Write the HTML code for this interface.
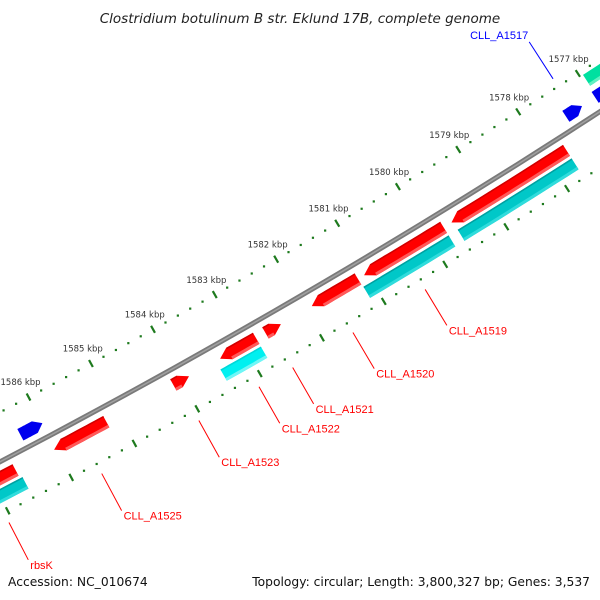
<!DOCTYPE html>
<html><head><meta charset="utf-8"><style>
html,body{margin:0;padding:0;background:#fff;}
svg{display:block;font-family:"DejaVu Sans","Liberation Sans",sans-serif;}
</style></head><body>
<svg id="chart" width="600" height="600" viewBox="0 0 600 600" xmlns="http://www.w3.org/2000/svg">
<rect width="600" height="600" fill="#fff"/>
<g id="ticks"></g>
<g id="backbone"></g>
<g id="genes"></g>
<g id="labels"></g>
<text x="300" y="23" text-anchor="middle" font-size="13.5" font-style="italic" fill="#222">Clostridium botulinum B str. Eklund 17B, complete genome</text>
<text x="8" y="586" font-size="12.3" fill="#111">Accession: NC_010674</text>
<text x="590" y="586" text-anchor="end" font-size="12.3" fill="#111">Topology: circular; Length: 3,800,327 bp; Genes: 3,537</text>
</svg>
<script>
// data
const geneNames = ["CLL_A1518x","CLL_A1519","CLL_A1520","CLL_A1521","CLL_A1522","CLL_A1523","CLL_A1525","rbsK"];
const geneStart = [1577.72,1579.75,1581.15,1582.40,1582.80,1583.88,1585.20,1586.64];
const geneEnd   = [1579.62,1581.05,1581.90,1582.65,1583.38,1584.13,1586.03,1588.20];
const geneDir   = [1,1,1,-1,1,-1,1,1];
const geneLabeled = [false,true,true,true,true,true,true,true];
const geneLabelKbp = [1578.67,1580.42,1581.59,1582.56,1583.10,1584.06,1585.60,1587.06];
const hitStart = [1577.72,1579.75,1582.80,1586.60];
const hitEnd   = [1579.60,1581.14,1583.45,1588.20];
const hitBright = [false,false,true,false];
const blueNames = ["CLL_A1524","CLL_A1517","CLL_A1516"];
const blueStart = [1586.00,1577.20,1576.70];
const blueEnd   = [1586.35,1577.47,1576.98];
const blueLabeled = [false,true,false];
const rnaStart = [1576.40];
const rnaEnd = [1576.95];
const tickKbp = [1576,1577,1578,1579,1580,1581,1582,1583,1584,1585,1586,1587,1588];

// geometry
const CX=-3386, CY=-6028, RB=7320;
const NS="http://www.w3.org/2000/svg";
function ang(k){return (56.99+(k-1577)*0.558)*Math.PI/180;}
function pt(k,r){const a=ang(k);return [CX+r*Math.cos(a),CY+r*Math.sin(a)];}
function mk(tag,attrs,parent){const e=document.createElementNS(NS,tag);for(const a in attrs)e.setAttribute(a,attrs[a]);parent.appendChild(e);return e;}
function arcPts(k1,k2,r,n){const p=[];for(let i=0;i<=n;i++){p.push(pt(k1+(k2-k1)*i/n,r));}return p;}
function shape(k1,k2,r1,r2,dir,head){
  const rm=(r1+r2)/2;let pts=[];
  if(dir===1){const kb=Math.max(k1,k2-head);
    pts=arcPts(k1,kb,r1,10).concat([pt(k2,rm)]).concat(arcPts(kb,k1,r2,10));}
  else if(dir===-1){const kb=Math.min(k2,k1+head);
    pts=[pt(k1,rm)].concat(arcPts(kb,k2,r1,10)).concat(arcPts(k2,kb,r2,10));}
  else {pts=arcPts(k1,k2,r1,10).concat(arcPts(k2,k1,r2,10));}
  return pts.map(p=>p[0].toFixed(1)+","+p[1].toFixed(1)).join(" ");
}
function body(k1,k2,dir,head){
  if(dir===1)return [k1,Math.max(k1,k2-head)];
  if(dir===-1)return [Math.min(k2,k1+head),k2];
  return [k1,k2];
}
const tg=document.getElementById('ticks'),bg=document.getElementById('backbone'),gg=document.getElementById('genes'),lg=document.getElementById('labels');

// tick rings
[RB-44,RB+47].forEach((r,ri)=>{
  for(let k=1575;k<=1589.001;k+=0.2){
    const kk=Math.round(k*10)/10;
    if(Math.abs(kk-Math.round(kk))<1e-6){
      const a=pt(kk,r-4),b=pt(kk,r+4);
      const l=mk('line',{x1:a[0],y1:a[1],x2:b[0],y2:b[1],stroke:'#1e7a1e','stroke-width':2.2},tg);
      
      
    } else {
      const a=pt(kk,r);
      const c=mk('rect',{x:a[0]-1,y:a[1]-1,width:2.2,height:2.2,fill:'#1e7a1e'},tg);
      
      
    }
  }
});
tickKbp.forEach(k=>{
  const p=pt(k,RB-61);
  const t=mk('text',{x:p[0],y:p[1]+3,'text-anchor':'middle','font-size':'8.5',fill:'#333'},tg);
  t.textContent=k+" kbp";
  
  
});

// backbone
const bpts=arcPts(1574,1590,RB,40).map(p=>p[0].toFixed(1)+","+p[1].toFixed(1)).join(" ");
const b1=mk('polyline',{points:bpts,fill:'none',stroke:'#7a7a7a','stroke-width':5},bg);


const b2=mk('polyline',{points:bpts,fill:'none',stroke:'#a0a0a0','stroke-width':1.5},bg);



// red genes
geneStart.forEach((s,i)=>{
  const g=mk('g',{},gg);
  
  
  const bd=body(s,geneEnd[i],geneDir[i],0.15);
  mk('polygon',{points:shape(s,geneEnd[i],RB+8,RB+21,geneDir[i],0.15),fill:'#ff0000'},g);
  mk('polygon',{points:shape(bd[0],bd[1],RB+18,RB+21,0,0),fill:'#ff5a5a'},g);
  mk('polygon',{points:shape(bd[0],bd[1],RB+8,RB+9.5,0,0),fill:'#d00000'},g);
});
// cyan hits
hitStart.forEach((s,i)=>{
  const g=mk('g',{},gg);
  
  
  const main=hitBright[i]?'#00f0f0':'#00c8c8';
  mk('polygon',{points:shape(s,hitEnd[i],RB+24,RB+37,0,0),fill:main},g);
  mk('polygon',{points:shape(s,hitEnd[i],RB+34,RB+37,0,0),fill:hitBright[i]?'#70f6f6':'#30dcdc'},g);
  mk('polygon',{points:shape(s,hitEnd[i],RB+24,RB+25.5,0,0),fill:hitBright[i]?'#00d8d8':'#00a0a0'},g);
});
// blue genes
blueStart.forEach((s,i)=>{
  const g=mk('g',{},gg);
  
  
  mk('polygon',{points:shape(s,blueEnd[i],RB-21,RB-8,-1,0.12),fill:'#0000ee'},g);
});
// green RNA
rnaStart.forEach((s,i)=>{
  const g=mk('g',{},gg);
  
  
  mk('polygon',{points:shape(s,rnaEnd[i],RB-40,RB-27,0,0),fill:'#00e0a0'},g);
  mk('polygon',{points:shape(s,rnaEnd[i],RB-30,RB-27,0,0),fill:'#60f0c0'},g);
});

// labels
geneStart.forEach((s,i)=>{
  if(!geneLabeled[i])return;
  const k=geneLabelKbp[i], a=pt(k,RB+58), b=pt(k,RB+100);
  const l=mk('line',{x1:a[0],y1:a[1],x2:b[0],y2:b[1],stroke:'#ff0000','stroke-width':1},lg);
  
  
  const t=mk('text',{x:b[0]+2,y:b[1]+9,'font-size':'11','font-family':'Liberation Sans, sans-serif',fill:'#ff0000'},lg);
  t.textContent=geneNames[i];
  
  
});
blueStart.forEach((s,i)=>{
  if(!blueLabeled[i])return;
  const k=(s+blueEnd[i])/2, a=pt(k,RB-53), b=pt(k,RB-97);
  const l=mk('line',{x1:a[0],y1:a[1],x2:b[0],y2:b[1],stroke:'#0000ff','stroke-width':1},lg);
  
  
  const t=mk('text',{x:b[0]-1,y:b[1]-3,'text-anchor':'end','font-size':'11','font-family':'Liberation Sans, sans-serif',fill:'#0000ff'},lg);
  t.textContent=blueNames[i];
  
  
});
</script>
</body></html>
